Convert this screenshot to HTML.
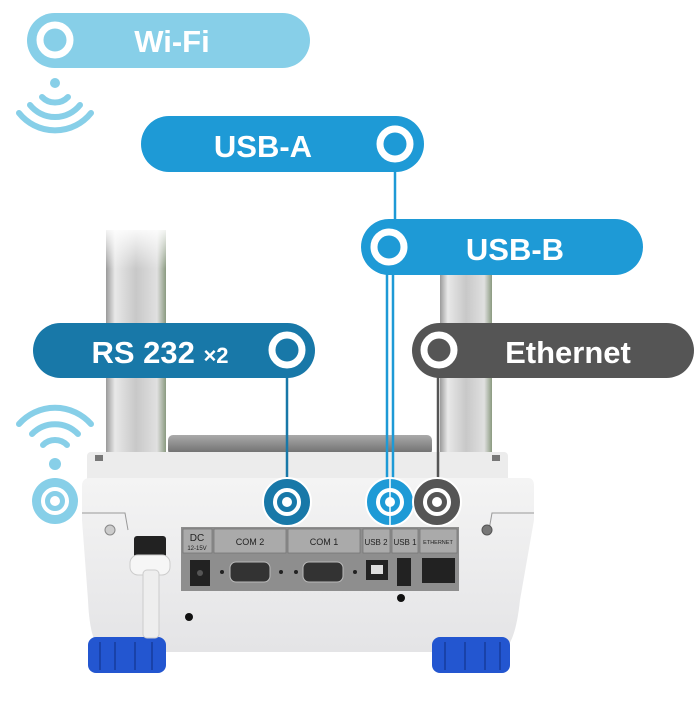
<!DOCTYPE html>
<html><head><meta charset="utf-8"><style>
html,body{margin:0;padding:0;background:#fff;}
svg{display:block}
text{font-family:"Liberation Sans",sans-serif;font-weight:bold;}
</style></head><body>
<svg width="700" height="709" viewBox="0 0 700 709" xmlns="http://www.w3.org/2000/svg">
<defs>
<linearGradient id="pil" x1="0" x2="1" y1="0" y2="0">
<stop offset="0" stop-color="#9a9a9a"/><stop offset="0.15" stop-color="#e8e8e8"/><stop offset="0.5" stop-color="#c8c8c8"/><stop offset="0.85" stop-color="#e0e0e0"/><stop offset="1" stop-color="#8a9a80"/>
</linearGradient>
<linearGradient id="pilfade" x1="0" x2="0" y1="0" y2="1">
<stop offset="0" stop-color="#fff" stop-opacity="1"/><stop offset="0.4" stop-color="#fff" stop-opacity="0"/>
</linearGradient>
<linearGradient id="body" x1="0" x2="0" y1="0" y2="1">
<stop offset="0" stop-color="#f4f4f4"/><stop offset="1" stop-color="#e4e4e6"/>
</linearGradient>
<linearGradient id="pan" x1="0" x2="0" y1="0" y2="1">
<stop offset="0" stop-color="#aaa"/><stop offset="1" stop-color="#6a6a6a"/>
</linearGradient>
</defs>
<rect x="106" y="230" width="60" height="225" fill="url(#pil)"/>
<rect x="440" y="230" width="52" height="225" fill="url(#pil)"/>
<rect x="100" y="225" width="400" height="110" fill="url(#pilfade)"/>
<rect x="168" y="435" width="264" height="20" rx="5" fill="url(#pan)"/>
<rect x="87" y="452" width="421" height="30" rx="4" fill="#ececec"/>
<rect x="95" y="455" width="8" height="6" fill="#777"/>
<rect x="492" y="455" width="8" height="6" fill="#777"/>
<path d="M83 478 H528 Q534 478 534 486 V520 L520 600 Q515 648 500 652 H105 Q90 648 88 600 L82 520 V486 Q82 478 90 478 Z" fill="url(#body)"/>
<path d="M82 513 H125 L128 530 M534 513 H492 L489 530" stroke="#999" fill="none" stroke-width="1"/>
<circle cx="110" cy="530" r="5" fill="#ccc" stroke="#888"/>
<circle cx="487" cy="530" r="5" fill="#777" stroke="#555"/>
<rect x="88" y="637" width="78" height="36" rx="8" fill="#2356d0"/>
<rect x="432" y="637" width="78" height="36" rx="8" fill="#2356d0"/>
<g stroke="#163c9c" stroke-width="1.5"><line x1="100" y1="642" x2="100" y2="670"/><line x1="115" y1="642" x2="115" y2="670"/><line x1="135" y1="642" x2="135" y2="670"/><line x1="152" y1="642" x2="152" y2="670"/><line x1="445" y1="642" x2="445" y2="670"/><line x1="465" y1="642" x2="465" y2="670"/><line x1="485" y1="642" x2="485" y2="670"/><line x1="500" y1="642" x2="500" y2="670"/></g>
<rect x="134" y="536" width="32" height="22" rx="3" fill="#222"/>
<rect x="130" y="555" width="40" height="20" rx="8" fill="#f6f6f6" stroke="#ccc"/>
<rect x="143" y="570" width="16" height="68" rx="4" fill="#eee" stroke="#ccc"/>
<circle cx="189" cy="617" r="4" fill="#111"/>
<circle cx="401" cy="598" r="4" fill="#111"/>
<rect x="181" y="527" width="278" height="64" fill="#8e8e8e"/>
<g fill="#aaa" stroke="#777" stroke-width="0.8">
<rect x="183" y="529" width="29" height="24"/><rect x="214" y="529" width="72" height="24"/><rect x="288" y="529" width="72" height="24"/><rect x="363" y="529" width="27" height="24"/><rect x="392" y="529" width="26" height="24"/><rect x="420" y="529" width="37" height="24"/>
</g>
<g fill="#222">
<text x="197" y="541" font-size="10" text-anchor="middle" style="font-weight:normal">DC</text>
<text x="197" y="550" font-size="6" text-anchor="middle" style="font-weight:normal">12-15V</text>
<text x="250" y="545" font-size="9" text-anchor="middle" style="font-weight:normal">COM 2</text>
<text x="324" y="545" font-size="9" text-anchor="middle" style="font-weight:normal">COM 1</text>
<text x="376" y="545" font-size="8" text-anchor="middle" style="font-weight:normal">USB 2</text>
<text x="405" y="545" font-size="8" text-anchor="middle" style="font-weight:normal">USB 1</text>
<text x="438" y="544" font-size="5.5" text-anchor="middle" style="font-weight:normal">ETHERNET</text>
</g>
<rect x="190" y="560" width="20" height="26" fill="#222"/><circle cx="200" cy="573" r="3" fill="#555"/>
<rect x="230" y="562" width="40" height="20" rx="6" fill="#333" stroke="#bbb"/>
<rect x="303" y="562" width="40" height="20" rx="6" fill="#333" stroke="#bbb"/>
<circle cx="222" cy="572" r="2" fill="#222"/><circle cx="281" cy="572" r="2" fill="#222"/><circle cx="296" cy="572" r="2" fill="#222"/><circle cx="355" cy="572" r="2" fill="#222"/>
<rect x="366" y="560" width="22" height="20" fill="#222"/><rect x="371" y="565" width="12" height="9" fill="#ddd"/>
<rect x="397" y="558" width="14" height="28" fill="#222"/>
<rect x="422" y="558" width="33" height="25" fill="#222"/>
<line x1="395" y1="170" x2="395" y2="222" stroke="#1e9ad6" stroke-width="2.5"/>
<line x1="287" y1="375" x2="287" y2="500" stroke="#1878a8" stroke-width="2.5"/>
<line x1="387" y1="272" x2="387" y2="500" stroke="#1e9ad6" stroke-width="2.5"/>
<line x1="393" y1="272" x2="393" y2="500" stroke="#1e9ad6" stroke-width="2.5"/>
<line x1="438" y1="375" x2="438" y2="500" stroke="#555" stroke-width="2.5"/>
<circle cx="287" cy="502" r="24" fill="#1878a8" stroke="#fff" stroke-width="2"/><circle cx="287" cy="502" r="12" fill="none" stroke="#fff" stroke-width="4"/><circle cx="287" cy="502" r="5" fill="#fff"/>
<circle cx="390" cy="502" r="24" fill="#1e9ad6" stroke="#fff" stroke-width="2"/><circle cx="390" cy="502" r="12" fill="none" stroke="#fff" stroke-width="4"/><circle cx="390" cy="502" r="5" fill="#fff"/><line x1="390" y1="478" x2="390" y2="527" stroke="#fff" stroke-width="1.5"/>
<circle cx="437" cy="502" r="24" fill="#555" stroke="#fff" stroke-width="2"/><circle cx="437" cy="502" r="12" fill="none" stroke="#fff" stroke-width="4"/><circle cx="437" cy="502" r="5" fill="#fff"/>
<rect x="27" y="13" width="283" height="55" rx="27.5" fill="#87cfe8"/>
<circle cx="55" cy="40" r="15" fill="none" stroke="#fff" stroke-width="7"/>
<text x="172" y="52" font-size="31" fill="#fff" text-anchor="middle">Wi-Fi</text>
<rect x="141" y="116" width="283" height="56" rx="28" fill="#1e9ad6"/>
<circle cx="395" cy="144" r="15" fill="none" stroke="#fff" stroke-width="7"/>
<text x="263" y="157" font-size="31" fill="#fff" text-anchor="middle">USB-A</text>
<rect x="361" y="219" width="282" height="56" rx="28" fill="#1e9ad6"/>
<circle cx="389" cy="247" r="15" fill="none" stroke="#fff" stroke-width="7"/>
<text x="515" y="260" font-size="31" fill="#fff" text-anchor="middle">USB-B</text>
<rect x="33" y="323" width="282" height="55" rx="27.5" fill="#1878a8"/>
<circle cx="287" cy="350" r="15" fill="none" stroke="#fff" stroke-width="7"/>
<text x="160" y="363" font-size="31" fill="#fff" text-anchor="middle">RS 232 <tspan font-size="22">×2</tspan></text>
<rect x="412" y="323" width="282" height="55" rx="27.5" fill="#555"/>
<circle cx="439" cy="350" r="15" fill="none" stroke="#fff" stroke-width="7"/>
<text x="568" y="363" font-size="31" fill="#fff" text-anchor="middle">Ethernet</text>
<g fill="none" stroke="#87cfe8" stroke-width="6" stroke-linecap="round">
<path d="M42 97 A18 18 0 0 0 68 97"/><path d="M30 105 A32 32 0 0 0 80 105"/><path d="M19 113 A46 46 0 0 0 91 113"/>
<path d="M43 445 A17 17 0 0 1 67 445"/><path d="M32 434 A32 32 0 0 1 78 434"/><path d="M19 424 A48 48 0 0 1 91 424"/>
</g>
<circle cx="55" cy="83" r="5" fill="#87cfe8"/>
<circle cx="55" cy="464" r="6" fill="#87cfe8"/>
<circle cx="55" cy="501" r="23" fill="#87cfe8"/><circle cx="55" cy="501" r="12" fill="none" stroke="#fff" stroke-width="4"/><circle cx="55" cy="501" r="5" fill="#fff"/>
</svg>
</body></html>
